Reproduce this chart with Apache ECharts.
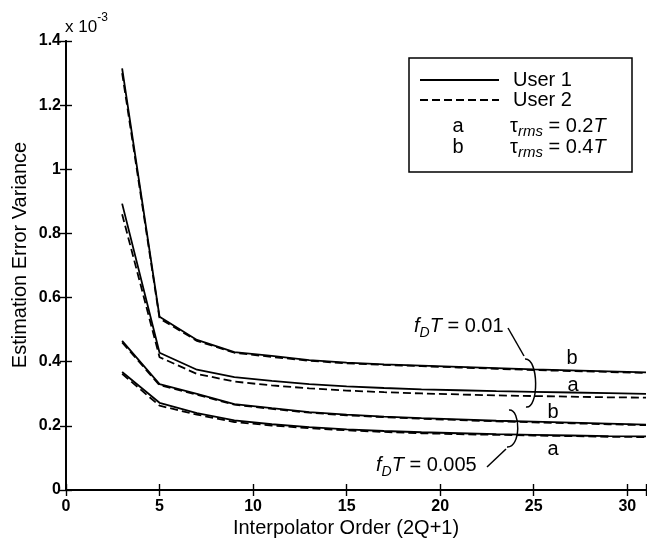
<!DOCTYPE html>
<html>
<head>
<meta charset="utf-8">
<script src="https://cdn.jsdelivr.net/npm/echarts@6/dist/echarts.min.js"></script>
<style>
html,body{margin:0;padding:0;background:#fff;}
#chart{width:647px;height:538px;}
</style>
</head>
<body>
<div id="chart"></div>
<script>
// Interpolator order (2Q+1)
const orders = [3, 5, 7, 9, 11, 13, 15, 17, 19, 21, 23, 25, 27, 29, 31];
// values in units of 1e-3
// fDT = 0.01, tau = 0.4T (b)
const f01_b_user1 = [1.315, 0.540, 0.468, 0.430, 0.418, 0.405, 0.397, 0.392, 0.388, 0.384, 0.380, 0.376, 0.373, 0.370, 0.367];
const f01_b_user2 = [1.300, 0.535, 0.465, 0.428, 0.415, 0.403, 0.395, 0.390, 0.386, 0.382, 0.378, 0.374, 0.371, 0.368, 0.365];
// fDT = 0.01, tau = 0.2T (a)
const f01_a_user1 = [0.893, 0.428, 0.375, 0.352, 0.340, 0.330, 0.323, 0.318, 0.314, 0.311, 0.308, 0.306, 0.304, 0.302, 0.300];
const f01_a_user2 = [0.860, 0.414, 0.362, 0.338, 0.326, 0.317, 0.310, 0.305, 0.301, 0.298, 0.295, 0.293, 0.291, 0.289, 0.288];
// fDT = 0.005, tau = 0.4T (b)
const f005_b_user1 = [0.465, 0.330, 0.300, 0.268, 0.255, 0.243, 0.235, 0.229, 0.224, 0.220, 0.216, 0.213, 0.210, 0.207, 0.204];
const f005_b_user2 = [0.460, 0.327, 0.297, 0.266, 0.253, 0.241, 0.233, 0.227, 0.222, 0.218, 0.214, 0.211, 0.208, 0.205, 0.202];
// fDT = 0.005, tau = 0.2T (a)
const f005_a_user1 = [0.368, 0.272, 0.240, 0.217, 0.205, 0.196, 0.189, 0.184, 0.180, 0.177, 0.174, 0.172, 0.170, 0.168, 0.167];
const f005_a_user2 = [0.362, 0.263, 0.235, 0.212, 0.201, 0.193, 0.186, 0.181, 0.177, 0.174, 0.172, 0.170, 0.168, 0.166, 0.165];

const xTicks = [0, 5, 10, 15, 20, 25, 30];

const FONT = '"Liberation Sans", Arial, Helvetica, sans-serif';
const chart = echarts.init(document.getElementById('chart'), null, {renderer: 'canvas'});

function pairs(vals) { return orders.map((o, i) => [o, vals[i]]); }
function mk(name, vals, dashed) {
  return {
    name: name, type: 'line', data: pairs(vals), showSymbol: false, symbol: 'none',
    xAxisIndex: 0, yAxisIndex: 0, silent: true,
    lineStyle: {color: '#000', width: 1.8, type: dashed ? [8, 4] : 'solid'}
  };
}

const axisLine = {show: true, lineStyle: {color: '#000', width: 1.8}};
const axisTick = {show: true, inside: true, length: 6, lineStyle: {color: '#000', width: 1.4}};

const tickLbl = {color: '#000', fontSize: 16, fontWeight: 'bold', fontFamily: FONT};

const option = {
  animation: false,
  backgroundColor: '#fff',
  grid: {left: 66, right: 1, top: 41, bottom: 48, containLabel: false, outerBoundsMode: 'none'},
  xAxis: [
    {type: 'value', position: 'bottom', min: 0, max: 31, interval: 5,
     axisLine: axisLine, axisTick: axisTick, splitLine: {show: false},
     axisLabel: Object.assign({margin: 9, formatter: v => xTicks.indexOf(v) >= 0 ? String(v) : ''}, tickLbl)},
    {type: 'value', position: 'top', min: 0, max: 31, interval: 5,
     axisLine: axisLine, axisTick: axisTick, splitLine: {show: false}, axisLabel: {show: false}}
  ],
  yAxis: [
    {type: 'value', position: 'left', min: 0, max: 1.4, interval: 0.2,
     axisLine: axisLine, axisTick: axisTick, splitLine: {show: false},
     axisLabel: Object.assign({margin: 5}, tickLbl)},
    {type: 'value', position: 'right', min: 0, max: 1.4, interval: 0.2,
     axisLine: axisLine, axisTick: axisTick, splitLine: {show: false}, axisLabel: {show: false}}
  ],
  series: [
    mk('User 1 fDT=0.01 b', f01_b_user1, false),
    mk('User 2 fDT=0.01 b', f01_b_user2, true),
    mk('User 1 fDT=0.01 a', f01_a_user1, false),
    mk('User 2 fDT=0.01 a', f01_a_user2, true),
    mk('User 1 fDT=0.005 b', f005_b_user1, false),
    mk('User 2 fDT=0.005 b', f005_b_user2, true),
    mk('User 1 fDT=0.005 a', f005_a_user1, false),
    mk('User 2 fDT=0.005 a', f005_a_user2, true)
  ]
};
chart.setOption(option);

// annotations and legend
const txt = (text, x, y, size, align, extra) => ({
  type: 'text', silent: true,
  style: Object.assign({text: text, x: x, y: y, fill: '#000', font: size + 'px ' + FONT,
    textAlign: align || 'center', textVerticalAlign: 'middle', align: align || 'center', verticalAlign: 'middle'}, extra || {})
});
const richF = {
  m: {fontSize: 20, fontFamily: FONT, lineHeight: 28, verticalAlign: 'middle', fill: '#000'},
  i: {fontSize: 20, fontFamily: FONT, fontStyle: 'italic', lineHeight: 28, verticalAlign: 'middle', fill: '#000'},
  s: {fontSize: 14, fontFamily: FONT, fontStyle: 'italic', lineHeight: 15, verticalAlign: 'bottom', fill: '#000'}
};
const richT = {
  m: {fontSize: 20, fontFamily: FONT, lineHeight: 26, verticalAlign: 'middle', fill: '#000'},
  i: {fontSize: 20, fontFamily: FONT, fontStyle: 'italic', lineHeight: 26, verticalAlign: 'middle', fill: '#000'},
  s: {fontSize: 15, fontFamily: FONT, fontStyle: 'italic', lineHeight: 14, verticalAlign: 'bottom', fill: '#000'}
};
const richTitle = (text, x, y, rich, align) => ({
  type: 'text', silent: true,
  style: {text: text, x: x, y: y, rich: rich, textAlign: align, align: align,
    textVerticalAlign: 'middle', verticalAlign: 'middle', fill: '#000', font: '20px ' + FONT}
});

const stroke = {stroke: '#000', lineWidth: 1.5, fill: null};

chart.setOption({
  graphic: [
    // axis titles
    txt('Interpolator Order (2Q+1)', 346, 528, 20, 'center'),
    {type: 'text', silent: true, x: 20, y: 255, rotation: Math.PI / 2,
      style: {text: 'Estimation Error Variance', x: 0, y: 0, fill: '#000', font: '20px ' + FONT,
        textAlign: 'center', align: 'center', textVerticalAlign: 'middle', verticalAlign: 'middle'}},
    // exponent
    {type: 'text', silent: true, style: {text: '{m|x 10}{p|-3}', x: 65, y: 24, textAlign: 'left', align: 'left',
      textVerticalAlign: 'middle', verticalAlign: 'middle',
      rich: {m: {fontSize: 17, fontFamily: FONT, lineHeight: 24, verticalAlign: 'bottom', fill: '#000'},
             p: {fontSize: 12, fontFamily: FONT, lineHeight: 12, verticalAlign: 'top', fill: '#000'}}}},
    // legend box
    {type: 'rect', silent: true, shape: {x: 409, y: 58, width: 223, height: 114},
      style: {stroke: '#000', lineWidth: 1.5, fill: '#fff'}},
    {type: 'line', silent: true, shape: {x1: 420, y1: 80, x2: 499, y2: 80}, style: {stroke: '#000', lineWidth: 1.8}},
    {type: 'line', silent: true, shape: {x1: 420, y1: 100, x2: 499, y2: 100}, style: {stroke: '#000', lineWidth: 1.8, lineDash: [8, 4]}},
    txt('User 1', 513, 80, 20, 'left'),
    txt('User 2', 513, 100, 20, 'left'),
    txt('a', 458, 126, 20, 'center'),
    txt('b', 458, 147, 20, 'center'),
    richTitle('{m|τ}{s|rms}{m| = 0.2}{i|T}', 510, 126, richT, 'left'),
    richTitle('{m|τ}{s|rms}{m| = 0.4}{i|T}', 510, 147, richT, 'left'),
    // fDT = 0.01 annotation
    richTitle('{i|f}{s|D}{i|T}{m| = 0.01}', 414, 326, richF, 'left'),
    {type: 'line', silent: true, shape: {x1: 508, y1: 328, x2: 524, y2: 356}, style: {stroke: '#000', lineWidth: 1.5}},
    {type: 'bezierCurve', silent: true, shape: {x1: 525, y1: 359, cpx1: 539, cpy1: 358, cpx2: 539, cpy2: 409, x2: 526, y2: 407}, style: stroke},
    // fDT = 0.005 annotation
    richTitle('{i|f}{s|D}{i|T}{m| = 0.005}', 376, 465, richF, 'left'),
    {type: 'line', silent: true, shape: {x1: 506, y1: 449, x2: 487, y2: 467}, style: {stroke: '#000', lineWidth: 1.5}},
    {type: 'bezierCurve', silent: true, shape: {x1: 509, y1: 410, cpx1: 521, cpy1: 409, cpx2: 521, cpy2: 448, x2: 507, y2: 447}, style: stroke},
    // a / b labels
    txt('b', 572, 358, 20, 'center'),
    txt('a', 573, 385, 20, 'center'),
    txt('b', 553, 412, 20, 'center'),
    txt('a', 553, 449, 20, 'center')
  ]
});
</script>
</body>
</html>
